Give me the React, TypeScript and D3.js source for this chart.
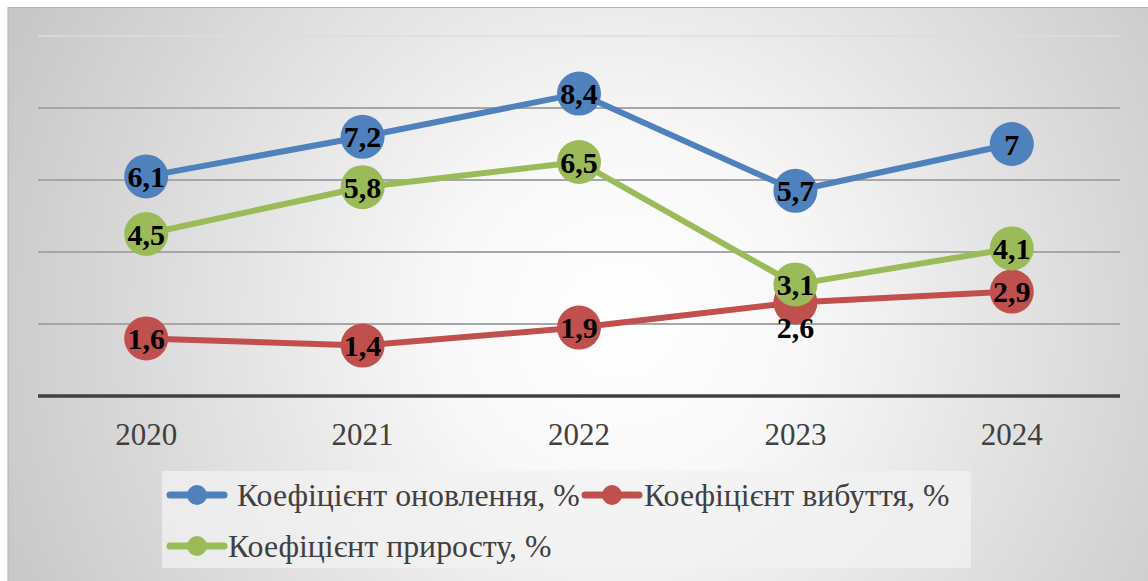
import React from "react";
import * as d3 from "d3";

const years = ["2020", "2021", "2022", "2023", "2024"];
const renewal = [6.1, 7.2, 8.4, 5.7, 7.0];
const disposal = [1.6, 1.4, 1.9, 2.6, 2.9];
const growth = [4.5, 5.8, 6.5, 3.1, 4.1];
const yTicks = [0, 2, 4, 6, 8, 10];
const seriesNames = ["Коефіцієнт оновлення, %", "Коефіцієнт вибуття, %", "Коефіцієнт приросту, %"];

const colors = ["#4F81BD", "#C0504D", "#9BBB59"];
const fmt = (v: number) => (Number.isInteger(v) ? String(v) : String(v).replace(".", ","));

export default function App() {
  const W = 1148, H = 581;
  const x = d3.scaleBand().domain(years).range([38, 1120]);
  const y = d3.scaleLinear().domain([0, 10]).range([396, 36]);
  const cx = (i: number) => (x(years[i]) as number) + x.bandwidth() / 2;
  const line = d3.line<number>().x((_, i) => cx(i)).y((v) => y(v));
  const series = [renewal, disposal, growth];
  const font = "'Liberation Serif', 'Times New Roman', serif";
  const labelOffset = (s: number, i: number) => (s === 1 && i === 3 ? 25 : 0);

  return (
    <svg width={W} height={H} style={{ position: "fixed", left: 0, top: 0, display: "block" }}>
      <defs>
        <radialGradient id="bg" gradientUnits="userSpaceOnUse" cx={620} cy={320} r={720}>
          <stop offset="0" stopColor="#ffffff" />
          <stop offset="0.25" stopColor="#f8f8f8" />
          <stop offset="1" stopColor="#c2c2c2" />
        </radialGradient>
      </defs>
      <rect x={0} y={0} width={W} height={H} fill="#ffffff" />
      <rect x={8} y={7.5} width={W} height={H} fill="url(#bg)" stroke="#b4b4b4" strokeWidth={1} />
      {yTicks.filter((t) => t > 0).map((t) => (
        <line key={t} x1={38} x2={1120} y1={y(t)} y2={y(t)}
          stroke={t === 10 ? "#dcdcdc" : "#a6a6a6"} strokeWidth={t === 10 ? 1.5 : 2} />
      ))}
      <line x1={38} x2={1120} y1={y(0)} y2={y(0)} stroke="#404040" strokeWidth={3.5} />
      {years.map((yr, i) => (
        <text key={yr} x={cx(i)} y={445} textAnchor="middle" fontFamily={font} fontSize={31} fill="#404040">{yr}</text>
      ))}
      {series.map((s, k) => (
        <g key={k}>
          <path d={line(s) as string} fill="none" stroke={colors[k]} strokeWidth={6} strokeLinejoin="round" />
          {s.map((v, i) => (
            <circle key={i} cx={cx(i)} cy={y(v)} r={22} fill={colors[k]} />
          ))}
        </g>
      ))}
      {series.map((s, k) => (
        <g key={"l" + k}>
          {s.map((v, i) => (
            <text key={i} x={cx(i)} y={y(v) + labelOffset(k, i)} dy="0.35em" textAnchor="middle"
              fontFamily={font} fontWeight="bold" fontSize={30} fill="#000">{fmt(v)}</text>
          ))}
        </g>
      ))}
      <rect x={162} y={471} width={809} height={97} fill="#f2f2f2" fillOpacity={0.75} />
      {[
        { lx: 168, ty: 495, tx: 237 },
        { lx: 583, ty: 495, tx: 644 },
        { lx: 168, ty: 546, tx: 228 },
      ].map((p, k) => (
        <g key={"lg" + k}>
          <line x1={p.lx + 2} x2={p.lx + 56} y1={p.ty} y2={p.ty} stroke={colors[k]} strokeWidth={7} strokeLinecap="round" />
          <circle cx={p.lx + 29} cy={p.ty} r={10} fill={colors[k]} />
          <text x={p.tx} y={p.ty} dy="0.35em" fontFamily={font} fontSize={31.8} fill="#404040">{seriesNames[k]}</text>
        </g>
      ))}
    </svg>
  );
}
